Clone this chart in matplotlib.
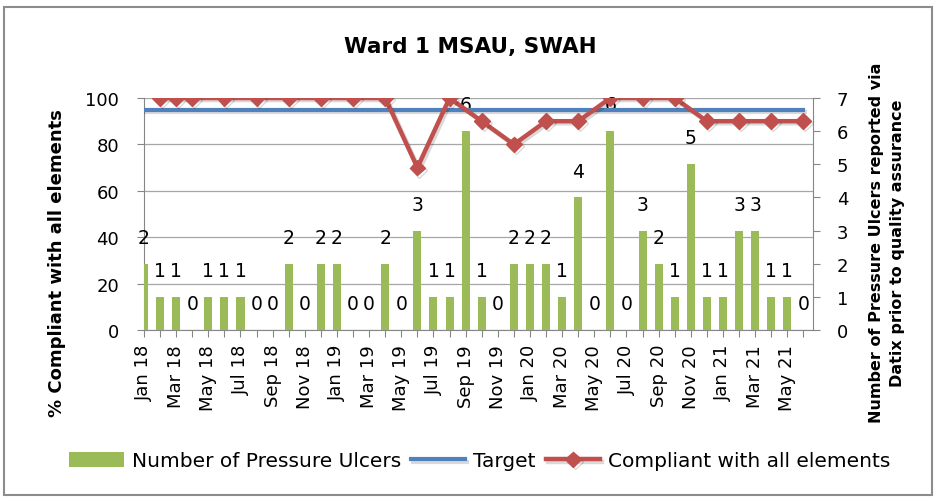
import matplotlib
matplotlib.use("Agg")
import matplotlib.pyplot as plt
import matplotlib.patheffects as pe
from matplotlib.patches import Rectangle

months = ["Jan 18", "Feb 18", "Mar 18", "Apr 18", "May 18", "Jun 18", "Jul 18", "Aug 18",
          "Sep 18", "Oct 18", "Nov 18", "Dec 18", "Jan 19", "Feb 19", "Mar 19", "Apr 19",
          "May 19", "Jun 19", "Jul 19", "Aug 19", "Sep 19", "Oct 19", "Nov 19", "Dec 19",
          "Jan 20", "Feb 20", "Mar 20", "Apr 20", "May 20", "Jun 20", "Jul 20", "Aug 20",
          "Sep 20", "Oct 20", "Nov 20", "Dec 20", "Jan 21", "Feb 21", "Mar 21", "Apr 21",
          "May 21", "Jun 21"]
ulcers = [2, 1, 1, 0, 1, 1, 1, 0, 0, 2, 0, 2, 2, 0, 0, 2, 0, 3, 1, 1, 6,
          1, 0, 2, 2, 2, 1, 4, 0, 6, 0, 3, 2, 1, 5, 1, 1, 3, 3, 1, 1, 0]
target = [95] * len(months)
compliance = [None, 100, 100, 100, None, 100, None, 100, None, 100, None, 100,
              None, 100, None, 100, None, 70, None, 100, None, 90, None, 80,
              None, 90, None, 90, None, 100, None, 100, None, 100, None, 90,
              None, 90, None, 90, None, 90]

GREEN = "#9BBB59"
BLUE = "#4F81BD"
RED = "#C0504D"
GRAY = "#868686"

W, H = 937, 502
fig = plt.figure(figsize=(W / 100, H / 100), dpi=100)

x = list(range(len(months)))

ax = fig.add_axes([144 / W, 171 / H, 669 / W, 232 / H])
ax_bar = ax.twinx()
ax_line = ax.twinx()

# left axis: percentage + gridlines
ax.set_xlim(0, 41.6)
ax.set_ylim(0, 100)
ax.set_yticks(range(0, 101, 20))
ax.grid(axis="y", color="#A6A6A6", linewidth=0.9)
ax.set_axisbelow(True)
ax.set_xticks(x)
ax.set_xticklabels([m if i % 2 == 0 else "" for i, m in enumerate(months)], rotation=90)
ax.tick_params(axis="x", length=5, color=GRAY, labelsize=13, pad=5)
ax.tick_params(axis="y", length=5, color=GRAY, labelsize=13, pad=13)
for s in ["top", "right"]:
    ax.spines[s].set_visible(False)
for s in ["left", "bottom"]:
    ax.spines[s].set_color(GRAY)

# bars on the right axis
ax_bar.bar(x, ulcers, width=0.5, color=GREEN, label="Number of Pressure Ulcers")
ax_bar.set_ylim(0, 7)
ax_bar.set_yticks(range(0, 8))
ax_bar.tick_params(axis="y", length=5, color=GRAY, labelsize=13, pad=12)
for s in ["top", "left", "bottom"]:
    ax_bar.spines[s].set_visible(False)
ax_bar.spines["right"].set_color(GRAY)
for i, v in enumerate(ulcers):
    ax_bar.annotate(str(v), (i, v), xytext=(0, 19), textcoords="offset points",
                    ha="center", va="center", fontsize=13.5)

# lines on top
ax_line.set_ylim(0, 100)
ax_line.yaxis.set_visible(False)
for s in ax_line.spines.values():
    s.set_visible(False)
shadow = [pe.SimpleLineShadow(offset=(1.5, -1.5), alpha=0.15), pe.Normal()]
ax_line.plot(x, target, color=BLUE, linewidth=3, label="Target",
             path_effects=shadow)
cx = [i for i, v in enumerate(compliance) if v is not None]
cy = [v for v in compliance if v is not None]
ax_line.plot(cx, cy, color=RED, linewidth=3.2, marker="D", markersize=8,
             label="Compliant with all elements", path_effects=shadow)

fig.text(470 / W, 1 - 47 / H, "Ward 1 MSAU, SWAH", ha="center", va="center",
         fontsize=15.5, fontweight="bold")
fig.text(57 / W, 1 - 263 / H, "% Compliant with all elements", rotation=90,
         ha="center", va="center", fontsize=13, fontweight="bold")
fig.text(887 / W, 1 - 243 / H,
         "Number of Pressure Ulcers reported via\nDatix prior to quality assurance",
         rotation=90, ha="center", va="center", fontsize=11.5, fontweight="bold",
         multialignment="center", linespacing=1.55)

handles = [ax_bar.patches[0], ax_line.lines[0], ax_line.lines[1]]
labels = ["Number of Pressure Ulcers", "Target", "Compliant with all elements"]
fig.legend(handles, labels, loc="center", bbox_to_anchor=(480 / W, 1 - 462 / H),
           ncol=3, frameon=False, fontsize=14.5, handlelength=2.7,
           handletextpad=0.4, columnspacing=0.5)

fig.add_artist(Rectangle((4 / W, 6 / H), 928 / W, 488 / H, transform=fig.transFigure,
                         fill=False, edgecolor="#8C8C8C", linewidth=1.5))

fig.savefig("out.png", dpi=100)
